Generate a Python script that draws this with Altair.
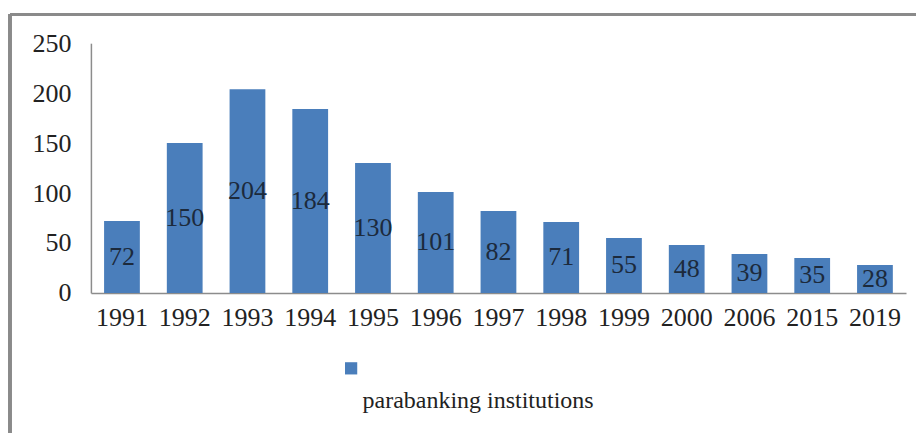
import altair as alt
import pandas as pd

years = ["1991", "1992", "1993", "1994", "1995", "1996", "1997", "1998", "1999", "2000", "2006", "2015", "2019"]
values = [72, 150, 204, 184, 130, 101, 82, 71, 55, 48, 39, 35, 28]
series = "parabanking institutions"

df = pd.DataFrame({"year": years, "value": values, "series": [series] * len(years)})

FONT = "'Times New Roman', 'Liberation Serif', 'DejaVu Serif', serif"
BAR = "#4a7ebb"

x = alt.X("year:N", sort=years, title=None,
          scale=alt.Scale(paddingInner=0.43, paddingOuter=0.21),
          axis=alt.Axis(labelAngle=0, ticks=False, labelPadding=12, labelFontSize=26,
                        labelFont=FONT, labelColor="#222222", domainColor="#8c8c8c",
                        domainWidth=1.5, grid=False))
y = alt.Y("value:Q", title=None,
          scale=alt.Scale(domain=[0, 250], nice=False),
          axis=alt.Axis(values=[0, 50, 100, 150, 200, 250], ticks=False, labelPadding=20,
                        labelFontSize=26, labelFont=FONT, labelColor="#222222",
                        domainColor="#8c8c8c", domainWidth=1.5, grid=False))

bars = alt.Chart(df).mark_bar(color=BAR).encode(
    x=x, y=y,
    color=alt.Color("series:N", scale=alt.Scale(range=[BAR]),
                    legend=alt.Legend(title=series, titleOrient="bottom", titleAnchor="start",
                                      titleFont=FONT, titleFontSize=24, titleFontWeight="normal",
                                      titleColor="#222222", titlePadding=14, titleLimit=600,
                                      labelExpr="''", symbolType="square", symbolSize=150,
                                      symbolOffset=-18, symbolStrokeWidth=0,
                                      orient="none", legendX=272, legendY=319, padding=0)),
)

labels = alt.Chart(df).transform_calculate(mid="datum.value / 2").mark_text(
    font=FONT, fontSize=26, color="#1c2a3c", baseline="middle"
).encode(
    x=alt.X("year:N", sort=years),
    y=alt.Y("mid:Q"),
    text=alt.Text("value:Q"),
)

border_left = alt.Chart(df).mark_rule(color="#8a8a8a", strokeWidth=2.5).encode(
    x=alt.value(-81), y=alt.value(-29), y2=alt.value(420))
border_top = alt.Chart(df).mark_rule(color="#8a8a8a", strokeWidth=2.5).encode(
    x=alt.value(-81), x2=alt.value(860), y=alt.value(-29))

chart = alt.layer(bars, labels, border_left, border_top).properties(
    width=816, height=250,
    autosize=alt.AutoSizeParams(type="none"),
    padding={"left": 83, "top": 35, "right": 10, "bottom": 140},
).configure_view(stroke=None)

chart.save("out.html", embed_options={"renderer": "svg", "actions": False})
